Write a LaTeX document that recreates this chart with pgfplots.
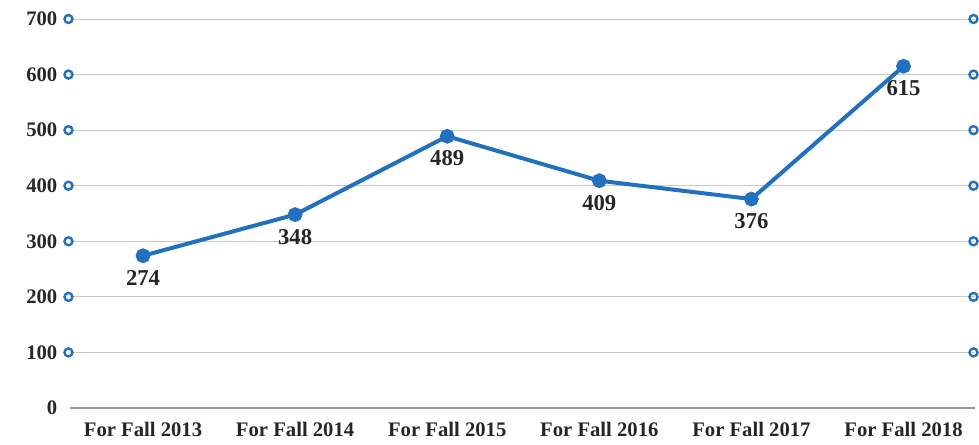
\documentclass[border=0pt]{standalone}
\usepackage{pgfplots}
\pgfplotsset{compat=1.18}
\usepackage{fontspec}
\setmainfont{Liberation Serif}
\definecolor{lineblue}{RGB}{33,113,192}
\definecolor{gridgray}{RGB}{200,200,200}
\begin{document}
\begin{tikzpicture}
\path[use as bounding box] (-52.5pt,-27pt) rectangle (681.75pt,306pt);
\begin{axis}[
  at={(0,0)}, anchor=south west,
  scale only axis, width=678.75pt, height=291.75pt,
  xmin=-0.48, xmax=5.47, ymin=0, ymax=700,
  clip=false,
  axis line style={draw=none},
  tick style={draw=none},
  xtick={0,1,2,3,4,5},
  xticklabels={For Fall 2013,For Fall 2014,For Fall 2015,For Fall 2016,For Fall 2017,For Fall 2018},
  ytick={100,200,300,400,500,600,700},
  extra y ticks={0},
  extra y tick style={grid style={draw=gray!80, line width=0.9pt}},
  ymajorgrids, grid style={draw=gridgray, line width=0.7pt},
  /pgf/number format/assume math mode=true,
  ticklabel style={font=\fontsize{15.5}{18}\selectfont\bfseries, text=black!85},
  yticklabel style={xshift=-6pt},
  xticklabel style={yshift=-7pt},
]
\addplot[only marks, mark=o, mark size=3pt, draw=lineblue, line width=1.8pt, forget plot]
  coordinates {(-0.49,100)(-0.49,200)(-0.49,300)(-0.49,400)(-0.49,500)(-0.49,600)(-0.49,700)
               (5.46,100)(5.46,200)(5.46,300)(5.46,400)(5.46,500)(5.46,600)(5.46,700)};
\addplot[lineblue, line width=3pt, mark=*, mark size=4pt, mark options={fill=lineblue, draw=lineblue},
  nodes near coords,
  every node near coord/.append style={anchor=north, yshift=-6pt, text=black!85,
     font=\fontsize{17}{20}\selectfont\bfseries},
  point meta=explicit symbolic]
  coordinates {(0,274)[274] (1,348)[348] (2,489)[489] (3,409)[409] (4,376)[376] (5,615)[615]};
\end{axis}
\end{tikzpicture}
\end{document}
